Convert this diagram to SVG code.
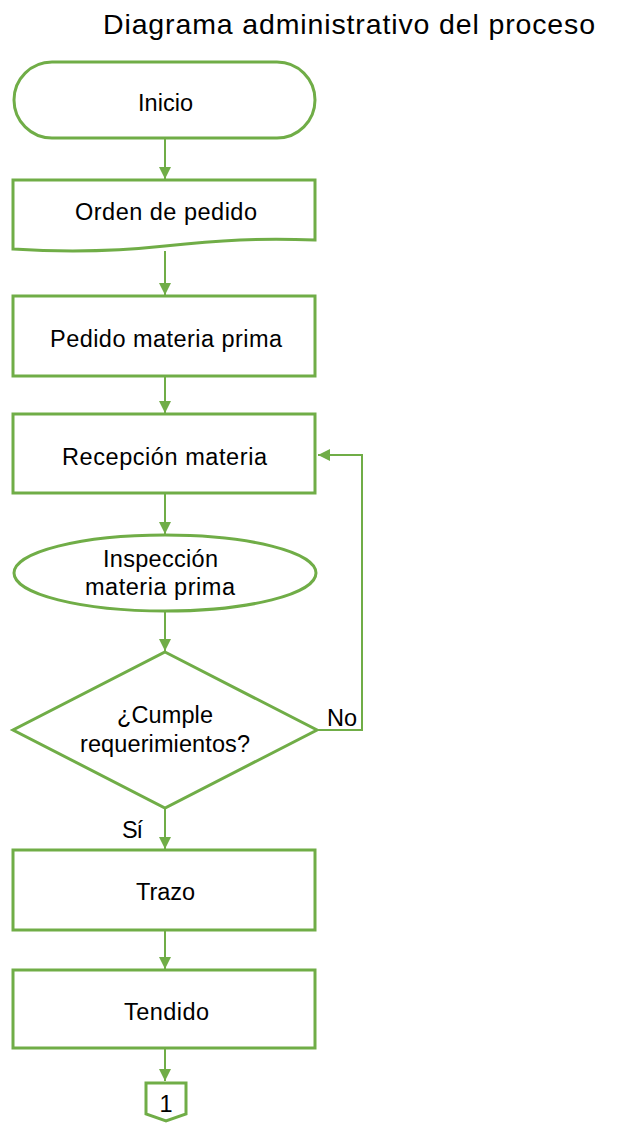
<svg xmlns="http://www.w3.org/2000/svg" width="625" height="1124" viewBox="0 0 625 1124">
<style>
.s{fill:#fff;stroke:#70AD47;stroke-width:3}
.c{fill:none;stroke:#70AD47;stroke-width:2}
.t{font-family:"Liberation Sans",Arial,sans-serif;font-size:23.5px;fill:#000;text-anchor:middle}
</style>
<defs>
<marker id="a" markerWidth="12" markerHeight="12" viewBox="0 0 12 12" refX="12" refY="6" orient="auto" markerUnits="userSpaceOnUse">
<path d="M0,0 L12,6 L0,12 Z" fill="#70AD47"/>
</marker>
</defs>
<text x="349" y="34" textLength="492" lengthAdjust="spacing" style="font-family:'Liberation Sans',Arial,sans-serif;font-size:28.5px;text-anchor:middle">Diagrama administrativo del proceso</text>
<g id="connectors">
<line class="c" x1="165" y1="138" x2="165" y2="179" marker-end="url(#a)"/>
<line class="c" x1="165" y1="251" x2="165" y2="295" marker-end="url(#a)"/>
<line class="c" x1="165" y1="376" x2="165" y2="413" marker-end="url(#a)"/>
<line class="c" x1="165" y1="493" x2="165" y2="534" marker-end="url(#a)"/>
<line class="c" x1="165" y1="611" x2="165" y2="651" marker-end="url(#a)"/>
<polyline class="c" points="317,730 362,730 362,455 318,455" marker-end="url(#a)"/>
<line class="c" x1="165" y1="808" x2="165" y2="849" marker-end="url(#a)"/>
<line class="c" x1="165" y1="930" x2="165" y2="969" marker-end="url(#a)"/>
<line class="c" x1="165" y1="1048" x2="165" y2="1081" marker-end="url(#a)"/>
</g>
<g id="inicio">
<rect class="s" x="14" y="62" width="301" height="76" rx="38"/>
<text class="t" x="165.5" y="111" textLength="55" lengthAdjust="spacing">Inicio</text>
</g>
<g id="orden">
<path class="s" d="M13,180 L315,180 L315,240 C260,238 220,240 165,246 C110,252 60,252 13,249 Z"/>
<text class="t" x="166" y="220" textLength="182" lengthAdjust="spacing">Orden  de pedido</text>
</g>
<g id="pedido">
<rect class="s" x="13" y="296" width="302" height="80"/>
<text class="t" x="166" y="347" textLength="232" lengthAdjust="spacing">Pedido materia prima</text>
</g>
<g id="recepcion">
<rect class="s" x="13" y="414" width="302" height="79"/>
<text class="t" x="164.5" y="465" textLength="205" lengthAdjust="spacing">Recepción  materia</text>
</g>
<g id="inspeccion">
<ellipse class="s" cx="165" cy="573" rx="151" ry="38"/>
<text class="t" x="160.5" y="567" textLength="115" lengthAdjust="spacing">Inspección</text>
<text class="t" x="160" y="595" textLength="150" lengthAdjust="spacing">materia prima</text>
</g>
<g id="cumple">
<polygon class="s" points="165,652 317,730 165,808 13,730"/>
<text class="t" x="165" y="723" textLength="96" lengthAdjust="spacing">¿Cumple</text>
<text class="t" x="165" y="752" textLength="170" lengthAdjust="spacing">requerimientos?</text>
</g>
<text class="t" x="342" y="726" textLength="30" lengthAdjust="spacing">No</text>
<text class="t" x="132.5" y="838" textLength="21" lengthAdjust="spacing">Sí</text>
<g id="trazo">
<rect class="s" x="13" y="850" width="302" height="80"/>
<text class="t" x="165.5" y="900" textLength="59" lengthAdjust="spacing">Trazo</text>
</g>
<g id="tendido">
<rect class="s" x="13" y="970" width="302" height="78"/>
<text class="t" x="166.5" y="1020" textLength="85" lengthAdjust="spacing">Tendido</text>
</g>
<g id="conector1">
<polygon class="s" points="146,1083 186,1083 186,1114 166,1121 146,1114"/>
<text class="t" x="166" y="1112">1</text>
</g>
</svg>
